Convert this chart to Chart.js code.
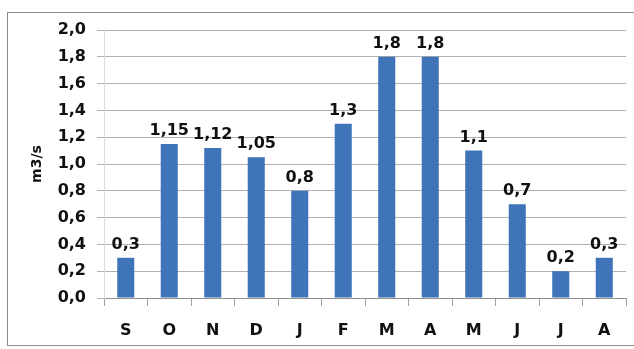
<!DOCTYPE html>
<html>
<head>
<meta charset="utf-8">
<script src="https://cdn.jsdelivr.net/npm/chart.js@4.4.1/dist/chart.umd.min.js"></script>
<style>
    html, body { margin: 0; padding: 0; background: #fff; }
    #wrap { position: relative; width: 634px; height: 349px; overflow: hidden; }
    #frame {
        position: absolute; left: 7px; top: 12px; width: 640px; height: 334px;
        border: 1px solid #8c8c8c; box-sizing: border-box;
    }
    #chart { position: absolute; left: 0; top: 0; }
</style>
</head>
<body>
<div id="wrap">
    <div id="frame"></div>
    <canvas id="chart" width="634" height="349"></canvas>
</div>
<script>
// Monthly discharge, hydrological year from September to August
const months = ['S', 'O', 'N', 'D', 'J', 'F', 'M', 'A', 'M', 'J', 'J', 'A'];
const flow = [0.3, 1.15, 1.12, 1.05, 0.8, 1.3, 1.8, 1.8, 1.1, 0.7, 0.2, 0.3];
const yTicks = [0, 0.2, 0.4, 0.6, 0.8, 1.0, 1.2, 1.4, 1.6, 1.8, 2.0];
const yTitle = 'm3/s';

const FONT = "'DejaVu Sans', sans-serif";
const barColor = '#3f74b9';

// Decimal comma, as printed on the axis and above the bars
function fmt(v, digits) {
    const s = digits === undefined ? String(v) : v.toFixed(digits);
    return s.replace('.', ',');
}

// Value labels above each bar
const barLabels = {
    id: 'barLabels',
    afterDatasetsDraw(chart) {
        const ctx = chart.ctx;
        const meta = chart.getDatasetMeta(0);
        ctx.save();
        ctx.font = 'bold 16px ' + FONT;
        ctx.fillStyle = '#111';
        ctx.textAlign = 'center';
        ctx.textBaseline = 'bottom';
        meta.data.forEach((bar, i) => {
            ctx.fillText(fmt(flow[i]), bar.x, bar.y - 5);
        });
        ctx.restore();
    }
};

new Chart(document.getElementById('chart'), {
    type: 'bar',
    data: {
        labels: months,
        datasets: [{
            data: flow,
            backgroundColor: barColor,
            borderWidth: 0,
            categoryPercentage: 0.8,
            barPercentage: 0.49
        }]
    },
    options: {
        responsive: false,
        animation: false,
        layout: { padding: { left: 25, right: 8, top: 30, bottom: 0 } },
        plugins: {
            legend: { display: false },
            tooltip: { enabled: false }
        },
        scales: {
            x: {
                afterFit: (scale) => { scale.height = 51; },
                grid: {
                    drawOnChartArea: false,
                    drawTicks: true,
                    tickLength: 8,
                    color: '#a0a0a0',
                    offset: true
                },
                border: { color: '#909090', width: 1 },
                ticks: {
                    color: '#111',
                    padding: 15,
                    font: { family: FONT, size: 16, weight: 'bold' }
                }
            },
            y: {
                min: 0,
                max: 2,
                afterFit: (scale) => { scale.width = 79; },
                afterBuildTicks: (scale) => {
                    scale.ticks = yTicks.map(v => ({ value: v }));
                },
                grid: {
                    color: '#b0b0b0',
                    tickLength: 7
                },
                border: { display: true, color: '#dadada' },
                ticks: {
                    color: '#111',
                    padding: 11,
                    font: { family: FONT, size: 16, weight: 'bold' },
                    callback: (v) => fmt(v, 1)
                },
                title: {
                    display: true,
                    text: yTitle,
                    color: '#111',
                    font: { family: FONT, size: 14, weight: 'bold' },
                    padding: { top: 4, bottom: 4 }
                }
            }
        }
    },
    plugins: [barLabels]
});
</script>
</body>
</html>
